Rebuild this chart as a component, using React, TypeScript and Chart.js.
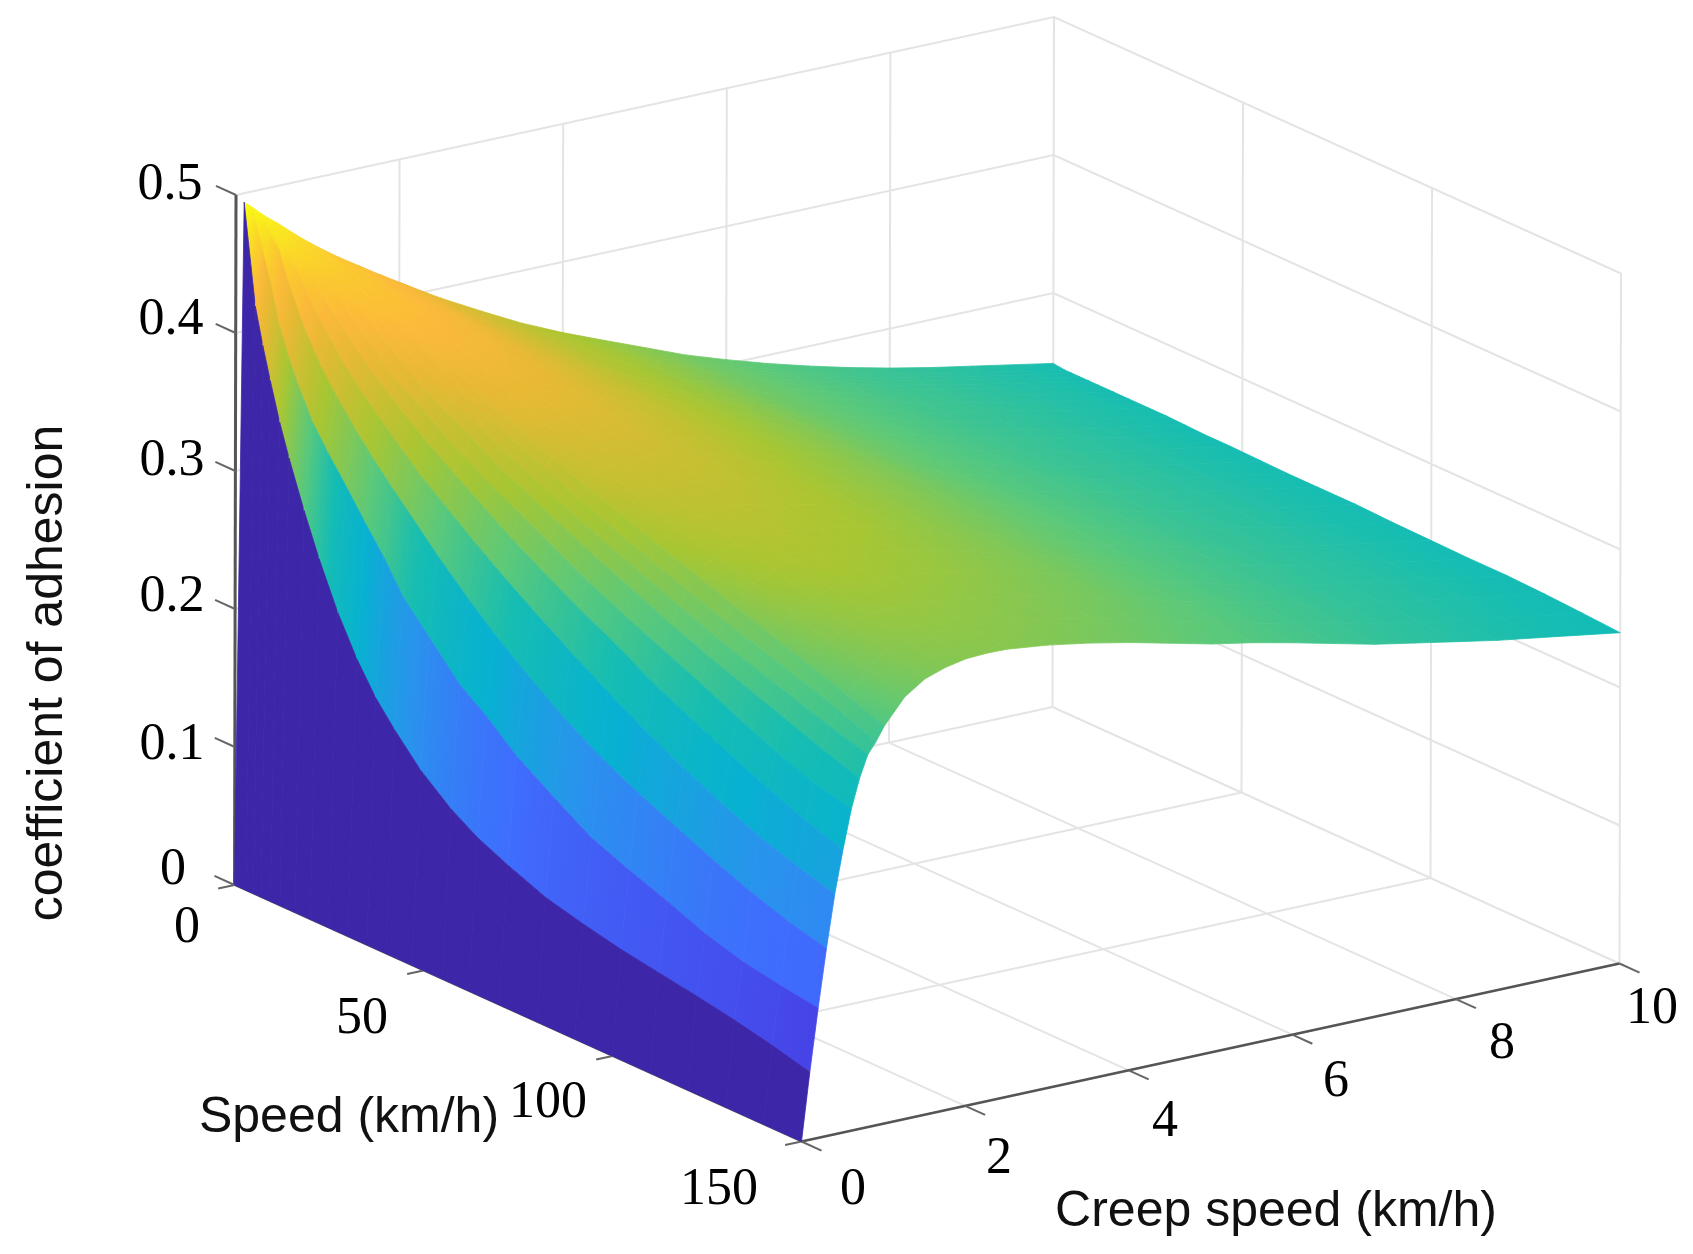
import React, { useEffect, useRef } from "react";
import { Chart, registerables } from "chart.js";

Chart.register(...registerables);

// Grid of the surface: creep speed (km/h) and speed (km/h)
const creepGrid = [0, 0.1, 0.2, 0.3, 0.4, 0.5, 0.6, 0.7, 0.8, 0.9, 1, 1.25, 1.5, 1.75, 2, 2.25, 2.5, 3, 3.5, 4, 4.5, 5, 5.5, 6, 6.5, 7, 7.5, 8, 8.5, 9, 10];
const speedGrid = [0, 3, 5, 7, 9.5, 12, 16, 20, 25, 30, 35, 40, 47, 55, 62, 70, 80, 90, 100, 110, 120, 130, 140, 150];

// Coefficient of adhesion, one list per speed, one value per creep speed
const muAt0 = [0, .4935, .4885, .483, .478, .4735, .4685, .4635, .4585, .454, .4495, .439, .4295, .42, .411, .402, .3932, .3772, .362, .3487, .3367, .325, .3132, .3033, .2941, .2858, .2782, .2714, .2653, .2599, .249];
const muAt3 = [0, .422, .458, .47, .468, .464, .46, .457, .454, .45, .447, .438, .429, .42, .411, .401, .392, .376, .361, .348, .336, .324, .312, .302, .293, .285, .277, .271, .265, .259, .248];
const muAt5 = [0, .396, .438, .462, .461, .459, .456, .454, .451, .448, .445, .437, .427, .419, .41, .4, .392, .376, .361, .348, .336, .324, .312, .302, .293, .285, .277, .271, .265, .259, .248];
const muAt7 = [0, .373, .414, .445, .452, .452, .451, .45, .448, .446, .444, .436, .427, .418, .41, .4, .391, .375, .361, .348, .336, .324, .312, .302, .293, .285, .277, .271, .265, .259, .248];
const muAt9 = [0, .346, .393, .428, .44, .444, .445, .445, .444, .442, .441, .434, .425, .417, .409, .399, .39, .375, .36, .348, .336, .324, .312, .302, .293, .285, .277, .271, .265, .259, .248];
const muAt12 = [0, .323, .376, .412, .428, .436, .44, .441, .441, .44, .439, .433, .424, .416, .408, .398, .39, .374, .36, .347, .336, .324, .312, .302, .293, .285, .277, .271, .265, .259, .248];
const muAt16 = [0, .29, .353, .392, .412, .423, .43, .433, .434, .434, .434, .43, .422, .415, .407, .397, .389, .374, .359, .347, .335, .323, .311, .302, .293, .285, .277, .271, .265, .259, .248];
const muAt20 = [0, .26, .336, .376, .397, .411, .419, .425, .428, .429, .429, .426, .42, .413, .405, .396, .388, .372, .358, .346, .334, .323, .311, .301, .293, .285, .277, .271, .265, .259, .248];
const muAt25 = [0, .227, .317, .358, .382, .397, .406, .414, .418, .421, .422, .421, .416, .41, .402, .394, .386, .372, .357, .345, .334, .322, .31, .301, .292, .284, .276, .271, .265, .259, .248];
const muAt30 = [0, .2, .297, .342, .368, .385, .394, .403, .408, .413, .415, .416, .412, .407, .4, .392, .385, .37, .357, .344, .333, .322, .31, .3, .292, .284, .276, .27, .264, .258, .248];
const muAt35 = [0, .178, .278, .327, .355, .374, .385, .393, .399, .404, .408, .411, .408, .403, .397, .39, .383, .369, .355, .344, .333, .321, .31, .3, .291, .283, .276, .27, .264, .258, .2475];
const muAt40 = [0, .161, .256, .313, .342, .363, .375, .385, .39, .396, .4, .404, .403, .4, .394, .387, .381, .368, .355, .343, .332, .321, .309, .299, .291, .283, .276, .27, .264, .258, .247];
const muAt47 = [0, .14, .235, .293, .327, .35, .362, .374, .381, .386, .39, .396, .396, .394, .39, .384, .377, .366, .353, .342, .331, .32, .309, .299, .29, .283, .275, .269, .263, .258, .247];
const muAt55 = [0, .122, .211, .272, .31, .335, .349, .361, .369, .376, .381, .386, .388, .387, .385, .38, .374, .363, .351, .34, .33, .319, .307, .298, .29, .282, .274, .269, .263, .257, .2465];
const muAt62 = [0, .11, .197, .255, .296, .322, .339, .352, .36, .368, .373, .379, .381, .382, .38, .375, .37, .36, .349, .339, .329, .318, .307, .297, .289, .282, .274, .268, .263, .257, .246];
const muAt70 = [0, .1, .178, .238, .281, .309, .327, .341, .35, .358, .365, .373, .374, .375, .375, .371, .367, .357, .346, .336, .327, .317, .306, .297, .288, .281, .274, .268, .262, .257, .246];
const muAt80 = [0, .089, .16, .218, .263, .293, .312, .328, .338, .347, .355, .363, .367, .368, .367, .365, .361, .353, .343, .334, .325, .315, .305, .296, .288, .28, .273, .267, .262, .256, .246];
const muAt90 = [0, .082, .143, .201, .246, .279, .299, .316, .327, .336, .345, .355, .36, .361, .361, .358, .355, .349, .34, .332, .322, .313, .303, .295, .286, .279, .272, .267, .261, .255, .245];
const muAt100 = [0, .076, .132, .187, .23, .263, .287, .304, .316, .326, .336, .347, .353, .355, .355, .352, .35, .345, .337, .329, .32, .311, .301, .293, .286, .279, .271, .266, .26, .255, .2445];
const muAt110 = [0, .0715, .122, .175, .216, .25, .275, .293, .305, .316, .326, .339, .346, .349, .35, .347, .345, .34, .333, .326, .318, .309, .3, .292, .284, .277, .271, .265, .26, .254, .244];
const muAt120 = [0, .067, .111, .163, .203, .237, .262, .283, .296, .307, .317, .331, .337, .341, .343, .342, .34, .336, .33, .323, .316, .307, .298, .29, .283, .276, .269, .264, .259, .254, .244];
const muAt130 = [0, .062, .103, .152, .191, .225, .25, .273, .287, .298, .308, .322, .331, .335, .336, .336, .334, .33, .325, .319, .313, .304, .296, .289, .281, .275, .268, .263, .258, .253, .243];
const muAt140 = [0, .056, .098, .143, .182, .214, .24, .263, .278, .289, .298, .314, .324, .328, .33, .33, .329, .326, .321, .315, .308, .3, .294, .286, .279, .273, .266, .261, .256, .251, .2415];
const muAt150 = [0, .049, .094, .136, .174, .205, .233, .254, .27, .278, .288, .306, .316, .321, .324, .3248, .3245, .321, .316, .31, .303, .296, .2905, .284, .277, .27, .2645, .259, .2535, .249, .2397];
const surface = [muAt0, muAt3, muAt5, muAt7, muAt9, muAt12, muAt16, muAt20, muAt25, muAt30, muAt35, muAt40, muAt47, muAt55, muAt62, muAt70, muAt80, muAt90, muAt100, muAt110, muAt120, muAt130, muAt140, muAt150];

// Axes
const creepTicks = [0, 2, 4, 6, 8, 10];
const speedTicks = [0, 50, 100, 150];
const muTicks = [0, 0.1, 0.2, 0.3, 0.4, 0.5];
const muTickLabels = ["0", "0.1", "0.2", "0.3", "0.4", "0.5"];
const speedTickLabels = ["0", "50", "100", "150"];
const creepTickLabels = ["0", "2", "4", "6", "8", "10"];
const creepTitle = "Creep speed (km/h)";
const speedTitle = "Speed (km/h)";
const muTitle = "coefficient of adhesion";

// Parula-like colour map
const colourAt = [0, 0.1, 0.2, 0.3, 0.4, 0.5, 0.6, 0.7, 0.8, 0.85, 0.9, 1];
const colourStops = ["#3e26a8", "#4643e7", "#3f6dfd", "#2a92ee", "#07b1d1", "#15bdb3", "#5cc979", "#a8c632", "#e6b933", "#fbb93a", "#fbc92e", "#f9fb15"];
const colourMax = 0.4935;

// Where the tick labels sit on the page
const muLabelAt = [[173, 870], [172, 745], [172, 597], [172, 461], [171, 320], [170, 185]];
const speedLabelAt = [[187, 928], [362, 1019], [548, 1103], [719, 1190]];
const creepLabelAt = [[853, 1190], [999, 1159], [1165, 1122], [1336, 1082], [1502, 1044], [1652, 1009]];

function hexRgb(h: string) {
  return [1, 3, 5].map((i) => parseInt(h.slice(i, i + 2), 16));
}
function parula(v: number) {
  const t = Math.max(0, Math.min(1, v / colourMax));
  let i = 0;
  while (i < colourAt.length - 2 && t > colourAt[i + 1]) i++;
  const a = hexRgb(colourStops[i]);
  const b = hexRgb(colourStops[i + 1]);
  const f = (t - colourAt[i]) / (colourAt[i + 1] - colourAt[i]);
  const m = a.map((x, k) => Math.round(x + (b[k] - x) * f));
  return `rgb(${m[0]},${m[1]},${m[2]})`;
}

// Fixed view of the 3-D box on the flat value plane
function view(c: number, s: number, z: number) {
  return {
    x: 234.5 + 81.8 * c + 3.78 * s + 3 * z,
    y: 885 - 17.8 * c + 1.71 * s - 1380 * z,
  };
}

const GRID = "#e4e4e4";
const AXIS = "#555555";

function lineSet(points: { x: number; y: number }[], color: string, width: number) {
  return {
    type: "line" as const,
    data: points,
    borderColor: color,
    borderWidth: width,
    pointRadius: 0,
    fill: false,
    tension: 0,
  };
}

function quadFill(ctx: CanvasRenderingContext2D, i: number, j: number) {
  const v = (ci: number, sj: number) => surface[sj][ci];
  const P = (ci: number, sj: number) => view(creepGrid[ci], speedGrid[sj], v(ci, sj));
  const p00 = P(i, j), p10 = P(i + 1, j), p01 = P(i, j + 1), p11 = P(i + 1, j + 1);
  const narrow = creepGrid[i] < 1;
  // Narrow creep bands keep the colour of their lower creep edge
  const v00 = v(i, j);
  const v01 = v(i, j + 1);
  const v10 = narrow ? v00 : v(i + 1, j);
  const v11 = narrow ? v01 : v(i + 1, j + 1);
  const vm = (v00 + v10 + v01 + v11) / 4;
  const ecx = (p10.x - p00.x + p11.x - p01.x) / 2;
  const ecy = (p10.y - p00.y + p11.y - p01.y) / 2;
  const esx = (p01.x - p00.x + p11.x - p10.x) / 2;
  const esy = (p01.y - p00.y + p11.y - p10.y) / 2;
  const dc = (v10 - v00 + v11 - v01) / 2;
  const ds = (v01 - v00 + v11 - v10) / 2;
  const det = ecx * esy - ecy * esx;
  if (Math.abs(det) < 1) return parula(vm);
  const gx = (dc * esy - ds * ecy) / det;
  const gy = (ecx * ds - esx * dc) / det;
  const L = gx * gx + gy * gy;
  const d = Math.max(Math.abs(v00 - vm), Math.abs(v10 - vm), Math.abs(v01 - vm), Math.abs(v11 - vm));
  if (L < 1e-14 || d < 1e-6) return parula(vm);
  const cx = (p00.x + p10.x + p01.x + p11.x) / 4;
  const cy = (p00.y + p10.y + p01.y + p11.y) / 4;
  const g = ctx.createLinearGradient(cx - (gx / L) * d, cy - (gy / L) * d, cx + (gx / L) * d, cy + (gy / L) * d);
  g.addColorStop(0, parula(vm - d));
  g.addColorStop(0.5, parula(vm));
  g.addColorStop(1, parula(vm + d));
  return g;
}

function buildDatasets(ctx: CanvasRenderingContext2D) {
  const back: any[] = [];
  const c1 = creepTicks[creepTicks.length - 1];
  const s1 = speedTicks[speedTicks.length - 1];
  const z1 = muTicks[muTicks.length - 1];
  // Walls and floor
  for (const z of muTicks) {
    if (z > 0) back.push(lineSet([view(0, 0, z), view(c1, 0, z), view(c1, s1, z)], GRID, 2));
  }
  for (const c of creepTicks) {
    if (c > 0) back.push(lineSet([view(c, 0, 0), view(c, 0, z1)], GRID, 2));
    back.push(lineSet([view(c, 0, 0), view(c, s1, 0)], GRID, 2));
  }
  for (const s of speedTicks) {
    if (s > 0) back.push(lineSet([view(c1, s, 0), view(c1, s, z1)], GRID, 2));
    back.push(lineSet([view(0, s, 0), view(c1, s, 0)], GRID, 2));
  }
  // Axis lines and ticks
  back.push(lineSet([view(0, 0, 0), view(0, 0, z1)], AXIS, 3));
  back.push(lineSet([view(0, s1, 0), view(c1, s1, 0)], AXIS, 2.6));
  back.push(lineSet([view(0, 0, 0), view(0, s1, 0)], AXIS, 1.6));
  for (const z of muTicks) back.push(lineSet([view(0, 0, z), view(0, -5.3, z)], "#666666", 2));
  for (const s of speedTicks) back.push(lineSet([view(0, s, 0), view(-0.2, s, 0)], "#666666", 2));
  for (const c of creepTicks) back.push(lineSet([view(c, s1, 0), view(c, s1 + 5.3, 0)], "#666666", 2));

  // Surface, far patches first
  for (let j = 0; j < speedGrid.length - 1; j++) {
    for (let i = creepGrid.length - 2; i >= 0; i--) {
      const pts = [[i, j], [i + 1, j], [i + 1, j + 1], [i, j + 1], [i, j]].map(([a, b]) =>
        view(creepGrid[a], speedGrid[b], surface[b][a])
      );
      const paint = quadFill(ctx, i, j);
      back.push({
        type: "line" as const,
        data: pts,
        borderColor: paint,
        backgroundColor: paint,
        borderWidth: 0.8,
        pointRadius: 0,
        fill: "shape",
        tension: 0,
      });
    }
  }
  // Chart.js paints the first dataset last
  return back.reverse();
}

const textPlugin = {
  id: "boxText",
  afterDraw(chart: any) {
    const ctx = chart.ctx;
    ctx.save();
    ctx.fillStyle = "#000000";
    ctx.textAlign = "center";
    ctx.textBaseline = "middle";
    ctx.font = '52px "Liberation Serif"';
    muTickLabels.forEach((t, k) => ctx.fillText(t, muLabelAt[k][0], muLabelAt[k][1]));
    speedTickLabels.forEach((t, k) => ctx.fillText(t, speedLabelAt[k][0], speedLabelAt[k][1]));
    creepTickLabels.forEach((t, k) => ctx.fillText(t, creepLabelAt[k][0], creepLabelAt[k][1]));
    ctx.font = '50px "Liberation Sans"';
    ctx.fillStyle = "#111111";
    ctx.fillText(speedTitle, 349, 1118);
    ctx.fillText(creepTitle, 1276, 1212);
    ctx.translate(48, 673);
    ctx.rotate(-Math.PI / 2);
    ctx.fillText(muTitle, 0, 0);
    ctx.restore();
  },
};

export default function App() {
  const ref = useRef<HTMLCanvasElement>(null);
  useEffect(() => {
    const canvas = ref.current!;
    const ctx = canvas.getContext("2d")!;
    const chart = new Chart(canvas, {
      type: "line",
      data: { datasets: buildDatasets(ctx) },
      options: {
        responsive: false,
        animation: false,
        parsing: false,
        normalized: true,
        layout: { padding: 0 },
        plugins: { legend: { display: false }, tooltip: { enabled: false }, filler: { propagate: false } },
        scales: {
          x: { type: "linear", display: false, min: 0, max: 1693 },
          y: { type: "linear", display: false, min: 0, max: 1254, reverse: true },
        },
      },
      plugins: [textPlugin],
    } as any);
    return () => chart.destroy();
  }, []);
  return (
    <div style={{ position: "absolute", left: 0, top: 0, width: 1693, height: 1254, background: "#fff", overflow: "hidden" }}>
      <canvas ref={ref} width={1693} height={1254} style={{ display: "block", width: 1693, height: 1254 }} />
    </div>
  );
}
